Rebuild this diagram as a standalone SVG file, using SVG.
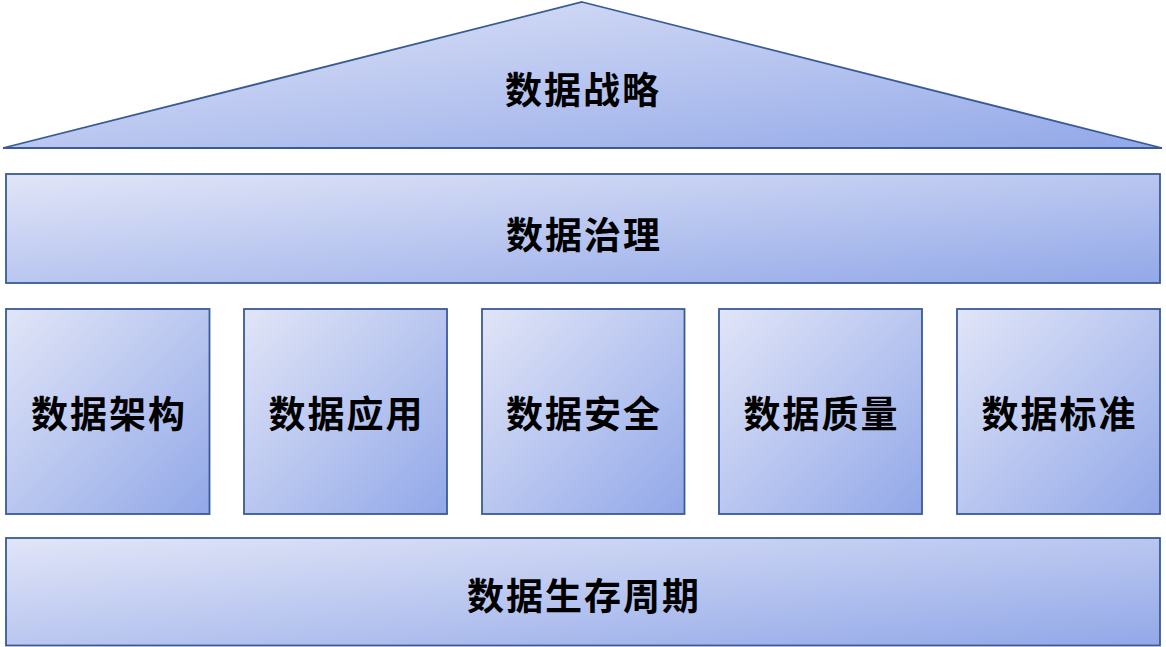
<svg xmlns="http://www.w3.org/2000/svg" width="1166" height="647" viewBox="0 0 1166 647">
<style>
.shape{stroke:#3a5a96;stroke-width:1.8;fill:url(#g)}
.label{font-family:"Noto Sans CJK SC","Liberation Sans",sans-serif;font-size:37px;font-weight:600;fill:#000;text-anchor:middle;letter-spacing:2px}
</style>
<defs>
<linearGradient id="g" x1="0" y1="0" x2="1" y2="1">
<stop offset="0" stop-color="#e1e5f7"/>
<stop offset="1" stop-color="#92a8e8"/>
</linearGradient>
</defs>
<rect width="1166" height="647" fill="#fff"/>
<g id="strategy">
<polygon class="shape" points="582,2 1162,148 3,148"/>
<text class="label" x="583" y="104">数据战略</text>
</g>
<g id="governance">
<rect class="shape" x="6" y="174" width="1154" height="109"/>
<text class="label" x="584" y="249">数据治理</text>
</g>
<g id="architecture">
<rect class="shape" x="6" y="309" width="203.5" height="205"/>
<text class="label" x="109" y="428">数据架构</text>
</g>
<g id="application">
<rect class="shape" x="244" y="309" width="203" height="205"/>
<text class="label" x="346.5" y="428">数据应用</text>
</g>
<g id="security">
<rect class="shape" x="482" y="309" width="202.5" height="205"/>
<text class="label" x="584" y="428">数据安全</text>
</g>
<g id="quality">
<rect class="shape" x="719" y="309" width="203" height="205"/>
<text class="label" x="821.5" y="428">数据质量</text>
</g>
<g id="standard">
<rect class="shape" x="957" y="309" width="203" height="205"/>
<text class="label" x="1059.5" y="428">数据标准</text>
</g>
<g id="lifecycle">
<rect class="shape" x="6" y="538" width="1154" height="107.5"/>
<text class="label" x="584" y="610">数据生存周期</text>
</g>
<g id="connectors"></g>
</svg>
